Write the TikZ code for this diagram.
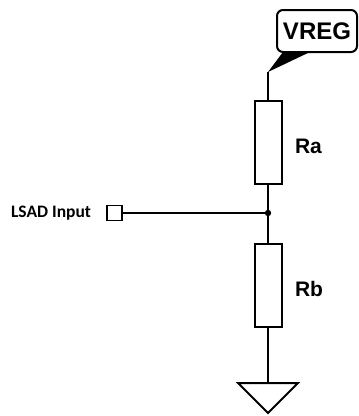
\documentclass[tikz,border=0pt]{standalone}
\usepackage{fontspec}
\setmainfont{Liberation Sans}
\newfontfamily\calibri{Carlito}
\tikzset{
	resbox/.style={draw, minimum width=27pt, minimum height=83pt, inner sep=0pt},
	reslabel/.style={anchor=west, inner sep=0pt, font=\fontsize{21}{21}\selectfont\bfseries},
}
\begin{document}
\begin{tikzpicture}[x=1pt,y=-1pt,line width=2pt]
		\useasboundingbox (0,0) rectangle (359,416);
		% supply tag
		\node[draw, rounded corners=6pt, minimum width=80pt, minimum height=42pt, inner sep=0pt,
			font=\fontsize{24}{24}\selectfont\bfseries] (vreg) at (317,31) {VREG};
		\coordinate (tip) at (268,72);
		\fill (283,52) -- (310,52) -- (tip) -- cycle;
		% divider
		\foreach \n/\y in {a/142.5,b/285}{
			\node[resbox] (R\n) at (268,\y) {};
			\node[reslabel] (L\n) at (294,\y+4) {R\n};
		}
		\coordinate (j) at (268,213);
		\coordinate (gnd) at (268,383);
		\node[draw, line width=1.3pt, minimum size=15pt, inner sep=0pt] (in) at (114.5,213) {};
		\node[anchor=east, inner sep=0pt, font=\calibri\fontsize{17.5}{17.5}\selectfont\bfseries] (inlabel) at (92,213) {LSAD Input};
		\draw (tip) -- (Ra.north);
		\draw (Ra.south) -- (Rb.north);
		\draw (in.east) -- (j);
		\fill (j) circle (3.2pt);
		\draw (Rb.south) -- (gnd);
		\draw[line join=miter] (gnd) -- (298,383) -- (268,413) -- (238,383) -- cycle;
	\end{tikzpicture}
\end{document}
